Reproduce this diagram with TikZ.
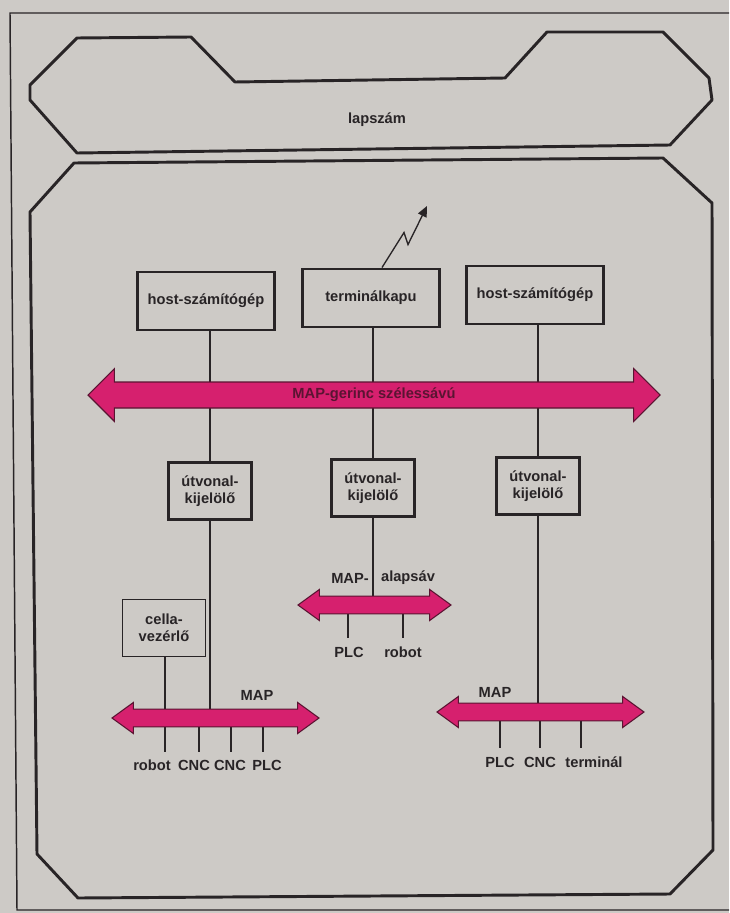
\documentclass[tikz,border=0pt]{standalone}
\usepackage{fontspec}
\setmainfont{Liberation Sans}
\usetikzlibrary{shapes,arrows,arrows.meta}
\pgfdeclarelayer{bg}
\pgfsetlayers{bg,main}
\definecolor{paper}{RGB}{205,202,198}
\definecolor{busfill}{RGB}{214,32,110}
\definecolor{busline}{RGB}{90,20,50}
\definecolor{ink}{RGB}{40,36,38}

\begin{document}
\begin{tikzpicture}[x=0.75pt, y=-0.75pt, font=\bfseries\fontsize{11}{12.75}\selectfont]
\tikzstyle{boxr}=[rectangle, draw=ink, line width=2.2pt, text=ink, align=center, inner sep=2pt]
\tikzstyle{hostbox}=[boxr, minimum width=102.75pt, minimum height=43.5pt]
\tikzstyle{routbox}=[boxr, minimum width=62.25pt, minimum height=42.75pt]
\tikzstyle{cellbox}=[routbox, line width=1.1pt]
\tikzstyle{bus}=[double arrow, draw=busline, fill=busfill, line width=0.8pt, text height=8pt, text depth=2.5pt, inner xsep=0pt]
\tikzstyle{busmain}=[bus, inner ysep=4.1pt, double arrow head extend=10pt, double arrow tip angle=90, minimum height=429pt, text=busline]
\tikzstyle{buslow}=[bus, inner ysep=1pt, double arrow head extend=5pt, double arrow tip angle=72]
\tikzstyle{lbl}=[text=ink, inner sep=1pt]
\tikzstyle{wire}=[draw=ink, line width=1pt]
\tikzstyle{hull}=[draw=ink, line width=2.2pt, line join=round]

\useasboundingbox (0,0) rectangle (729,913);
\begin{pgfonlayer}{bg}
\fill[paper] (0,0) rectangle (729,913);
\end{pgfonlayer}

% frame and outlines
\draw[draw=ink, line width=1.1pt] (729,13) -- (10,13) -- (17,910) -- (729,910);
\draw[hull] (30,85) -- (77,38) -- (191,37) -- (235,82) -- (505,78) -- (547,32) -- (663,32)
  -- (709,78) -- (712,100) -- (670,145) -- (77,153) -- (30,100) -- cycle;
\node[lbl] (tab) at (377,120) {lapszám};
\draw[hull] (30,212) -- (74,163) -- (663,158) -- (712,203) -- (713,850) -- (670,894)
  -- (78,898) -- (37,854) -- cycle;

% top row
\node[hostbox] (hostA) at (206,301) {host-számítógép};
\node[hostbox] (gate) at (371,298) {terminálkapu};
\node[hostbox] (hostB) at (535,295) {host-számítógép};
\coordinate (zapEnd) at (427,206);
\draw[wire, -{Triangle[length=8pt,width=7pt]}] ([xshift=8.25pt]gate.north) -- ++(22,-35) -- ++(4,12) -- (zapEnd);

% backbone
\node[busmain] (busM) at (374,395) {MAP-gerinc szélessávú};

% routers
\node[routbox] (routA) at (210,491) {útvonal-\\kijelölő};
\node[routbox] (routB) at (373,488) {útvonal-\\kijelölő};
\node[routbox] (routC) at (538,486) {útvonal-\\kijelölő};
\node[cellbox] (cell) at (164,628) {cella-\\vezérlő};

% lower buses
\node[buslow, minimum height=114.75pt] (busA) at (374.5,605) {};
\node[buslow, minimum height=155.25pt] (busL) at (215.5,718) {};
\node[buslow, minimum height=155.25pt] (busR) at (540.5,712) {};
\node[lbl] (mapA1) at (350,578) {MAP-};
\node[lbl] (mapA2) at (408,578) {alapsáv};
\node[lbl] (mapL) at (257,695) {MAP};
\node[lbl] (mapR) at (495,692) {MAP};

% drop ends
\coordinate (dA1) at (348,638);
\coordinate (dA2) at (403,638);
\coordinate (dL1) at (165,752);
\coordinate (dL2) at (199,752);
\coordinate (dL3) at (231,752);
\coordinate (dL4) at (263,752);
\coordinate (dR1) at (500,748);
\coordinate (dR2) at (540,748);
\coordinate (dR3) at (581,748);
\node[lbl] (plcA) at (349,652) {PLC};
\node[lbl] (robA) at (403,652) {robot};
\node[lbl] (robL) at (152,765) {robot};
\node[lbl] (cncL1) at (194,765) {CNC};
\node[lbl] (cncL2) at (230,765) {CNC};
\node[lbl] (plcL) at (267,765) {PLC};
\node[lbl] (plcR) at (500,762) {PLC};
\node[lbl] (cncR) at (540,762) {CNC};
\node[lbl] (termR) at (594,762) {terminál};

\begin{pgfonlayer}{bg}
\draw[wire] (routA.north |- hostA.south) -- (routA.north);
\draw[wire] (routB.north |- gate.south) -- (routB.north);
\draw[wire] (routC.north |- hostB.south) -- (routC.north);
\draw[wire] (routA.south) -- (routA.south |- busL);
\draw[wire] (routB.south) -- (routB.south |- busA);
\draw[wire] (routC.south) -- (routC.south |- busR);
\draw[wire] (cell.south -| dL1) -- (dL1);
\draw[wire] (dA1 |- busA) -- (dA1);
\draw[wire] (dA2 |- busA) -- (dA2);
\draw[wire] (dL2 |- busL) -- (dL2);
\draw[wire] (dL3 |- busL) -- (dL3);
\draw[wire] (dL4 |- busL) -- (dL4);
\draw[wire] (dR1 |- busR) -- (dR1);
\draw[wire] (dR2 |- busR) -- (dR2);
\draw[wire] (dR3 |- busR) -- (dR3);
\end{pgfonlayer}
\end{tikzpicture}
\end{document}
